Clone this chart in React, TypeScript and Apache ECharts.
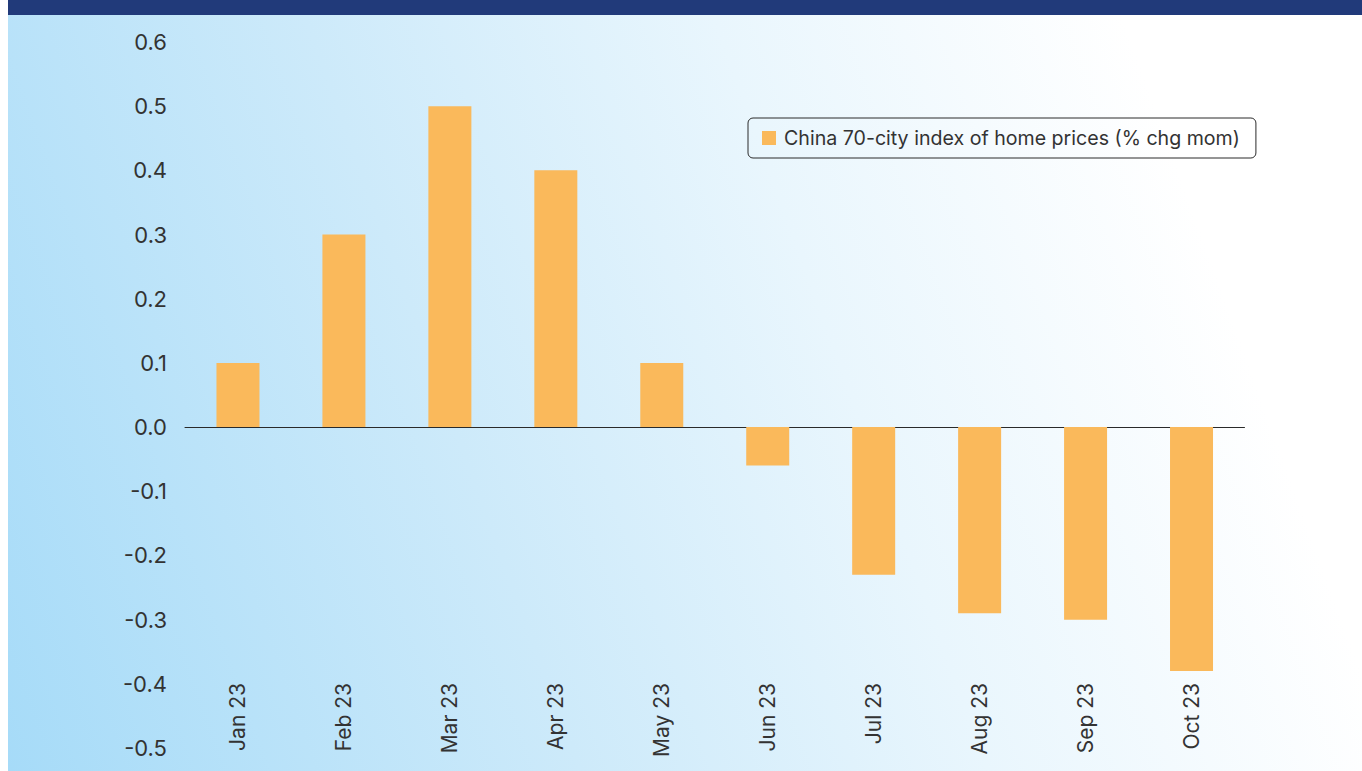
import React, { useEffect, useRef } from "react";
import * as echarts from "echarts";

const categories = ["Jan 23", "Feb 23", "Mar 23", "Apr 23", "May 23", "Jun 23", "Jul 23", "Aug 23", "Sep 23", "Oct 23"];
const values = [0.1, 0.3, 0.5, 0.4, 0.1, -0.06, -0.23, -0.29, -0.3, -0.38];
const seriesName = "China 70-city index of home prices (% chg mom)";
const yMin = -0.5;
const yMax = 0.6;
const yStep = 0.1;

export default function App() {
  const ref = useRef<HTMLDivElement>(null);
  useEffect(() => {
    if (!ref.current) return;
    const chart = echarts.init(ref.current, undefined, { renderer: "svg" });
    const font = "Inter, 'Noto Sans', sans-serif";
    chart.setOption({
      animation: false,
      backgroundColor: "transparent",
      textStyle: { fontFamily: font },
      grid: { left: 177, right: 117.5, top: 42, bottom: 23, containLabel: false },
      legend: {
        show: true,
        left: 740,
        top: 118,
        orient: "horizontal",
        padding: [10, 16, 10, 14],
        borderColor: "#2a2a2a",
        borderWidth: 1,
        borderRadius: 5,
        itemWidth: 14,
        itemHeight: 14,
        icon: "rect",
        textStyle: { fontSize: 19.6, color: "#333333", fontFamily: font, padding: [0, 0, 0, 3] },
        data: [seriesName],
      },
      xAxis: [
        {
          type: "category",
          data: categories,
          axisLine: { show: true, onZero: true, lineStyle: { color: "#2a2a2a", width: 1 } },
          axisTick: { show: false },
          axisLabel: { show: false },
          splitLine: { show: false },
        },
        {
          type: "category",
          data: categories,
          position: "bottom",
          offset: -70,
          axisLine: { show: false, onZero: false },
          axisTick: { show: false },
          axisLabel: { show: true, rotate: 90, margin: 5, fontSize: 21, color: "#333333", fontFamily: font },
          splitLine: { show: false },
        },
      ],
      yAxis: {
        type: "value",
        min: yMin,
        max: yMax,
        interval: yStep,
        axisLine: { show: false },
        axisTick: { show: false },
        splitLine: { show: false },
        axisLabel: {
          margin: 18,
          fontSize: 22,
          color: "#333333",
          fontFamily: font,
          formatter: (v: number) => v.toFixed(1),
        },
      },
      series: [
        {
          name: seriesName,
          type: "bar",
          xAxisIndex: 0,
          data: values,
          barWidth: 43,
          itemStyle: { color: "#FAB95B" },
        },
      ],
    });
    return () => chart.dispose();
  }, []);

  return (
    <div
      style={{
        position: "absolute",
        left: 8,
        top: 0,
        width: 1354,
        height: 771,
        background: "linear-gradient(70deg, #a6dbf8 0%, #cdeafa 35%, #e9f6fd 60%, #ffffff 85%)",
      }}
    >
      <div style={{ position: "absolute", left: 0, top: 0, width: 1354, height: 15, background: "#213a7a" }} />
      <div ref={ref} style={{ position: "absolute", left: 0, top: 0, width: 1354, height: 771 }} />
    </div>
  );
}
